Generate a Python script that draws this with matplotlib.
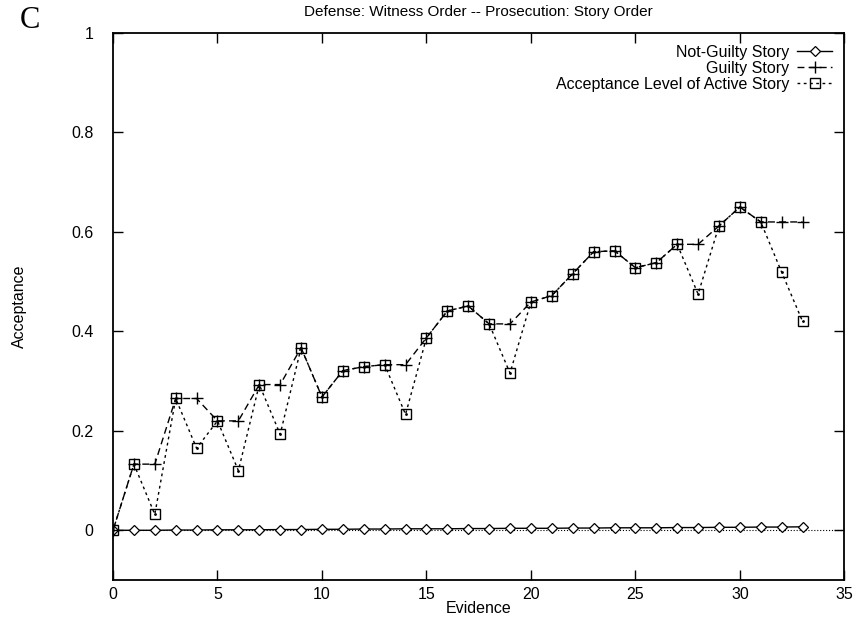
import numpy as np
import matplotlib.pyplot as plt

plt.rcParams['font.family'] = ['Liberation Sans', 'DejaVu Sans']

# data
evidence = list(range(34))
not_guilty = [0.0, 0.0, 0.0, 0.0005, 0.0005, 0.001, 0.001, 0.001, 0.0015, 0.0015,
              0.002, 0.002, 0.0025, 0.0025, 0.003, 0.003, 0.003, 0.0035, 0.0035, 0.004,
              0.004, 0.004, 0.0045, 0.0045, 0.005, 0.005, 0.005, 0.0055, 0.0055, 0.006,
              0.006, 0.0065, 0.0065, 0.007]
guilty = [0.0, 0.133, 0.133, 0.265, 0.265, 0.22, 0.22, 0.293, 0.293, 0.367,
          0.268, 0.321, 0.329, 0.333, 0.333, 0.387, 0.441, 0.451, 0.415, 0.415,
          0.459, 0.472, 0.516, 0.56, 0.562, 0.528, 0.538, 0.575, 0.575, 0.612,
          0.65, 0.62, 0.62, 0.62]
active = [0.0, 0.133, 0.032, 0.265, 0.165, 0.22, 0.12, 0.293, 0.193, 0.367,
          0.268, 0.321, 0.329, 0.333, 0.233, 0.387, 0.441, 0.451, 0.415, 0.316,
          0.459, 0.472, 0.516, 0.56, 0.562, 0.528, 0.538, 0.575, 0.475, 0.612,
          0.65, 0.62, 0.519, 0.42]

fig = plt.figure(figsize=(8.66, 6.22), dpi=100)
ax = fig.add_axes([0.1305, 0.0675, 0.8445, 0.8795])

# zero axis (gnuplot style dotted line)
ax.axhline(0, color='black', lw=0.8, ls=':', zorder=1)

ax.plot(evidence, not_guilty, color='black', lw=1.0, marker='D', markersize=5,
        mfc='white', mec='black', mew=0.9, label='Not-Guilty Story')
ax.plot(evidence, guilty, color='black', lw=1.0, ls=(0, (5, 3)), marker='+',
        markersize=9, mew=1.0, label='Guilty Story')
ax.plot(evidence, active, color='black', lw=1.0, ls=(0, (2, 2.5)), marker='s',
        markersize=7.5, mfc='none', mec='black', mew=1.0,
        label='Acceptance Level of Active Story')
ax.plot(evidence, active, ls='none', marker='.', markersize=2, color='black')

ax.set_xlim(0, 35)
ax.set_ylim(-0.1, 1)
ax.set_xticks([0, 5, 10, 15, 20, 25, 30, 35])
ax.set_yticks([0, 0.2, 0.4, 0.6, 0.8, 1])
ax.set_yticklabels(['0', '0.2', '0.4', '0.6', '0.8', '1'])
ax.tick_params(direction='in', top=True, right=True, length=7, width=1,
               labelsize=11.5)
ax.tick_params(axis='y', pad=14)
ax.tick_params(axis='x', pad=5)
for s in ax.spines.values():
    s.set_linewidth(1.3)

ax.set_xlabel('Evidence', fontsize=11.5, labelpad=-1)
ax.set_ylabel('Acceptance', fontsize=11.5)
ax.yaxis.set_label_coords(-0.117, 0.5)
ax.set_title('Defense: Witness Order -- Prosecution: Story Order', fontsize=11, pad=12)

ax.legend(loc='upper right', frameon=False, markerfirst=False, fontsize=11.5,
          handlelength=2.2, handletextpad=0.5, labelspacing=0.05,
          borderaxespad=0.35)

fig.text(0.023, 0.955, 'C', family='Liberation Serif', fontsize=22)

fig.savefig('out.png', dpi=100)
